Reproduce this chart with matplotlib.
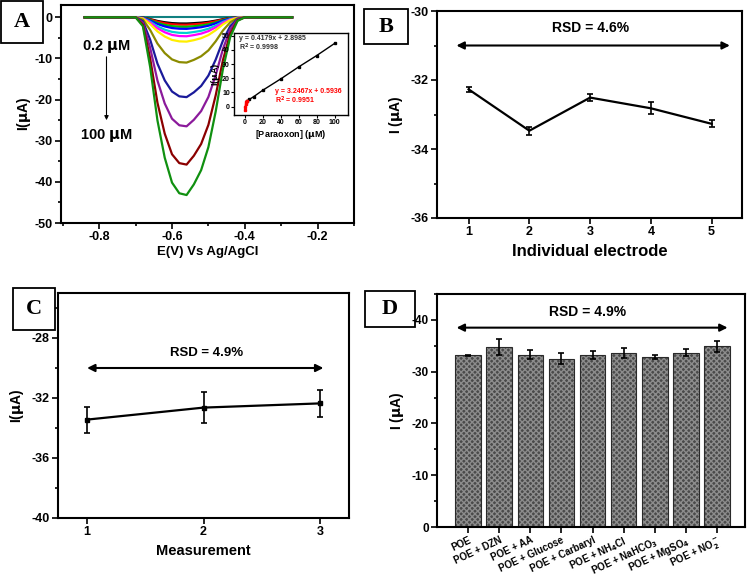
import numpy as np
import matplotlib.pyplot as plt
from matplotlib.patches import Rectangle
from matplotlib.ticker import MultipleLocator

plt.rcParams['font.family'] = ['Liberation Sans', 'DejaVu Sans']
plt.rcParams['font.weight'] = 'bold'
plt.rcParams['axes.labelweight'] = 'bold'
plt.rcParams['mathtext.default'] = 'bf'
plt.rcParams['axes.unicode_minus'] = False

# ---- panel A: DPV curves (potential grid, V) ----
E = [-0.84, -0.70, -0.68, -0.66, -0.64, -0.62, -0.60, -0.58, -0.56, -0.54,
     -0.52, -0.50, -0.48, -0.46, -0.44, -0.42, -0.40, -0.27]
curves = [
    ('black',   [0, 0, -0.08, -0.42, -0.87, -1.19, -1.40, -1.49, -1.5, -1.41, -1.29, -1.10, -0.80, -0.44, -0.17, -0.03, 0, 0]),
    ('red',     [0, 0, -0.09, -0.50, -1.04, -1.42, -1.67, -1.78, -1.8, -1.69, -1.55, -1.31, -0.95, -0.52, -0.20, -0.04, 0, 0]),
    ('#00c000', [0, 0, -0.12, -0.64, -1.33, -1.82, -2.14, -2.28, -2.3, -2.16, -1.98, -1.68, -1.22, -0.67, -0.25, -0.05, 0, 0]),
    ('blue',    [0, 0, -0.14, -0.78, -1.62, -2.21, -2.60, -2.77, -2.8, -2.63, -2.41, -2.04, -1.48, -0.81, -0.31, -0.06, 0, 0]),
    ('#00d0d0', [0, 0, -0.19, -1.06, -2.20, -3.00, -3.53, -3.76, -3.8, -3.57, -3.27, -2.77, -2.01, -1.10, -0.42, -0.08, 0, 0]),
    ('#ff00ff', [0, 0, -0.23, -1.29, -2.67, -3.63, -4.28, -4.55, -4.6, -4.32, -3.96, -3.36, -2.44, -1.33, -0.51, -0.09, 0, 0]),
    ('#ffee00', [0, 0, -0.30, -1.65, -3.42, -4.66, -5.49, -5.84, -5.9, -5.55, -5.07, -4.31, -3.13, -1.71, -0.65, -0.12, 0, 0]),
    ('#8b8b00', [0, 0, -0.55, -3.08, -6.38, -8.69, -10.23, -10.89, -11.0, -10.34, -9.46, -8.03, -5.83, -3.19, -1.21, -0.22, 0, 0]),
    ('#1a1a9a', [0, 0, -0.97, -5.43, -11.25, -15.33, -18.04, -19.21, -19.4, -18.24, -16.68, -14.16, -10.28, -5.63, -2.13, -0.39, 0, 0]),
    ('#8b1a9b', [0, 0, -1.33, -7.42, -15.37, -20.94, -24.65, -26.24, -26.5, -24.91, -22.79, -19.35, -14.05, -7.69, -2.92, -0.53, 0, 0]),
    ('#8b0000', [0, 0, -1.79, -10.02, -20.76, -28.28, -33.29, -35.44, -35.8, -33.65, -30.79, -26.13, -18.97, -10.38, -3.94, -0.72, 0, 0]),
    ('#109010', [0, 0, -2.16, -12.10, -25.06, -34.13, -40.18, -42.77, -43.2, -40.61, -37.15, -31.54, -22.90, -12.53, -4.75, -0.86, 0, 0]),
]
blank = [0] * len(E)

# inset calibration
cal_x = [2, 5, 10, 20, 40, 60, 80, 100]
cal_y = [3.8, 5.0, 7.0, 11.5, 19.5, 28.0, 36.0, 44.6]
low_x = [0.2, 0.5, 1.0, 1.5, 2.0]
low_y = [-2.5, 0.0, 2.0, 3.5, 4.2]

# ---- panel B ----
elec = [1, 2, 3, 4, 5]
elec_I = [-32.27, -33.47, -32.51, -32.82, -33.27]
elec_err = [0.08, 0.11, 0.09, 0.17, 0.10]

# ---- panel C ----
meas = [1, 2, 3]
meas_I = [-33.44, -32.64, -32.36]
meas_err = [0.86, 1.04, 0.92]

# ---- panel D ----
interf = ['POE', 'POE + DZN', 'POE + AA', 'POE + Glucose', 'POE + Carbaryl',
          'POE + NH$_4$Cl', 'POE + NaHCO$_3$', 'POE + MgSO$_4$', 'POE + NO$_2^-$']
interf_I = [33.2, 34.8, 33.3, 32.5, 33.2, 33.6, 32.8, 33.7, 34.9]
interf_err = [0.1, 1.5, 0.9, 1.05, 0.7, 1.0, 0.4, 0.75, 1.1]

fig = plt.figure(figsize=(7.5, 5.74), dpi=100)
W, H = 750.0, 574.0

def px_axes(x0, y0, x1, y1):
    return fig.add_axes([x0 / W, 1 - y1 / H, (x1 - x0) / W, (y1 - y0) / H])

def label_box(x0, y0, x1, y1, s):
    # drawn under the axes so tick labels stay visible
    fig.patches.append(Rectangle((x0 / W, 1 - y1 / H), (x1 - x0) / W, (y1 - y0) / H,
                                 transform=fig.transFigure, fill=True, fc='white',
                                 ec='black', lw=1.3, zorder=-2))
    fig.text((x0 + x1) / 2 / W, 1 - (y0 + y1) / 2 / H, s, ha='center', va='center',
             family=['Liberation Serif', 'DejaVu Serif'], fontsize=16, fontweight='bold',
             zorder=-1)

def style(ax, size=9):
    for sp in ax.spines.values():
        sp.set_linewidth(1.5)
    ax.tick_params(which='both', direction='out', width=1.2, labelsize=size, pad=2)
    ax.tick_params(which='major', length=4)
    ax.tick_params(which='minor', length=2.5)

def rsd_arrow(ax, x0, x1, y, ty, tx, s, size=10):
    ax.annotate('', xy=(x1, y), xytext=(x0, y),
                arrowprops=dict(arrowstyle='<|-|>', color='black', lw=1.5,
                                mutation_scale=11, shrinkA=0, shrinkB=0))
    ax.text(tx, ty, s, ha='center', va='center', fontsize=size, fontweight='bold')

# A
axA = px_axes(61, 5, 354, 223)
axA.plot(E, blank, color='#108080', lw=1.5)
for c, y in curves:
    axA.plot(E, y, color=c, lw=1.6)
axA.set_xlim(-0.905, -0.1)
axA.set_ylim(-50, 3)
axA.xaxis.set_major_locator(MultipleLocator(0.2))
axA.xaxis.set_minor_locator(MultipleLocator(0.1))
axA.yaxis.set_major_locator(MultipleLocator(10))
axA.yaxis.set_minor_locator(MultipleLocator(5))
axA.set_xlabel('E(V) Vs Ag/AgCl', fontsize=9.5, labelpad=2)
axA.set_ylabel('I($\\mu$A)', fontsize=10, labelpad=1)
style(axA)
axA.text(-0.78, -7.0, '0.2 $\\mu$M', ha='center', va='center', fontsize=10.5, fontweight='bold')
axA.text(-0.78, -28.7, '100 $\\mu$M', ha='center', va='center', fontsize=10.5, fontweight='bold')
axA.annotate('', xy=(-0.78, -25), xytext=(-0.78, -9.6),
             arrowprops=dict(arrowstyle='-|>', color='black', lw=0.8, mutation_scale=6,
                             shrinkA=0, shrinkB=0))
label_box(1, 1, 43, 43, 'A')

# inset
axI = px_axes(234, 33, 348, 115)
axI.plot(cal_x, cal_y, '-s', color='black', lw=1.0, ms=1.8)
axI.plot(low_x, low_y, '-s', color='red', lw=1.0, ms=1.5)
axI.set_xlim(-12, 115)
axI.set_ylim(-6, 52)
axI.xaxis.set_major_locator(MultipleLocator(20))
axI.yaxis.set_major_locator(MultipleLocator(10))
for sp in axI.spines.values():
    sp.set_linewidth(1.0)
axI.tick_params(direction='out', length=2, width=0.8, labelsize=5, pad=1)
axI.set_xlabel('[Paraoxon] ($\\mu$M)', fontsize=6.5, labelpad=1)
axI.set_ylabel('I($\\mu$A)', fontsize=6.5, labelpad=0)
axI.text(0.04, 0.93, 'y = 0.4179x + 2.8985', transform=axI.transAxes, fontsize=5, color='#333333', va='center')
axI.text(0.04, 0.82, 'R$^2$ = 0.9998', transform=axI.transAxes, fontsize=5, color='#333333', va='center')
axI.text(0.36, 0.29, 'y = 3.2467x + 0.5936', transform=axI.transAxes, fontsize=5, color='red', va='center')
axI.text(0.36, 0.18, 'R$^2$ = 0.9951', transform=axI.transAxes, fontsize=5, color='red', va='center')

# B
axB = px_axes(437, 11, 742, 218)
axB.errorbar(elec, elec_I, yerr=elec_err, color='black', lw=1.6, capsize=2.5, capthick=1.2, elinewidth=1.2)
axB.set_xlim(0.48, 5.5)
axB.set_ylim(-36, -30)
axB.xaxis.set_major_locator(MultipleLocator(1))
axB.yaxis.set_major_locator(MultipleLocator(2))
axB.yaxis.set_minor_locator(MultipleLocator(1))
axB.set_xlabel('Individual electrode', fontsize=12)
axB.set_ylabel('I ($\\mu$A)', fontsize=10)
style(axB)
rsd_arrow(axB, 0.8, 5.3, -31.0, -30.5, 3.0, 'RSD = 4.6%')
label_box(364, 9, 408, 44, 'B')

# C
axC = px_axes(58, 293, 349, 518)
axC.errorbar(meas, meas_I, yerr=meas_err, color='black', lw=1.6, marker='s', ms=3.5,
             capsize=2.5, capthick=1.2, elinewidth=1.2)
axC.set_xlim(0.75, 3.25)
axC.set_ylim(-40, -25)
axC.xaxis.set_major_locator(MultipleLocator(1))
axC.set_yticks([-40, -36, -32, -28])
axC.yaxis.set_minor_locator(MultipleLocator(2))
axC.set_xlabel('Measurement', fontsize=10.5)
axC.set_ylabel('I($\\mu$A)', fontsize=10)
style(axC)
rsd_arrow(axC, 1.0, 3.03, -30.0, -29.0, 2.03, 'RSD = 4.9%', size=9.5)
label_box(13, 288, 55, 330, 'C')

# D
axD = px_axes(437, 294, 745, 527)
pos = np.arange(len(interf))
axD.bar(pos, interf_I, width=0.82, color='#4a4a4a', edgecolor='#8c8c8c', hatch='xxxxxx', lw=0)
axD.bar(pos, interf_I, width=0.82, fill=False, edgecolor='#2a2a2a', lw=0.8)
axD.errorbar(pos, interf_I, yerr=interf_err, fmt='none', ecolor='black', elinewidth=1.2,
             capsize=2.5, capthick=1.2)
axD.set_xlim(-1.0, 8.9)
axD.set_ylim(0, 45)
axD.yaxis.set_minor_locator(MultipleLocator(5))
axD.set_yticks([0, 10, 20, 30, 40])
axD.set_yticklabels(['0', '-10', '-20', '-30', '-40'])
axD.set_xticks(pos)
axD.set_xticklabels(interf, rotation=25, ha='right', rotation_mode='anchor')
axD.set_ylabel('I ($\\mu$A)', fontsize=10)
style(axD, size=8.5)
axD.tick_params(axis='x', labelsize=7, pad=1.5)
rsd_arrow(axD, -0.37, 8.34, 38.5, 41.6, 3.85, 'RSD = 4.9%')
label_box(365, 291, 415, 327, 'D')

fig.savefig('out.png', dpi=100)
